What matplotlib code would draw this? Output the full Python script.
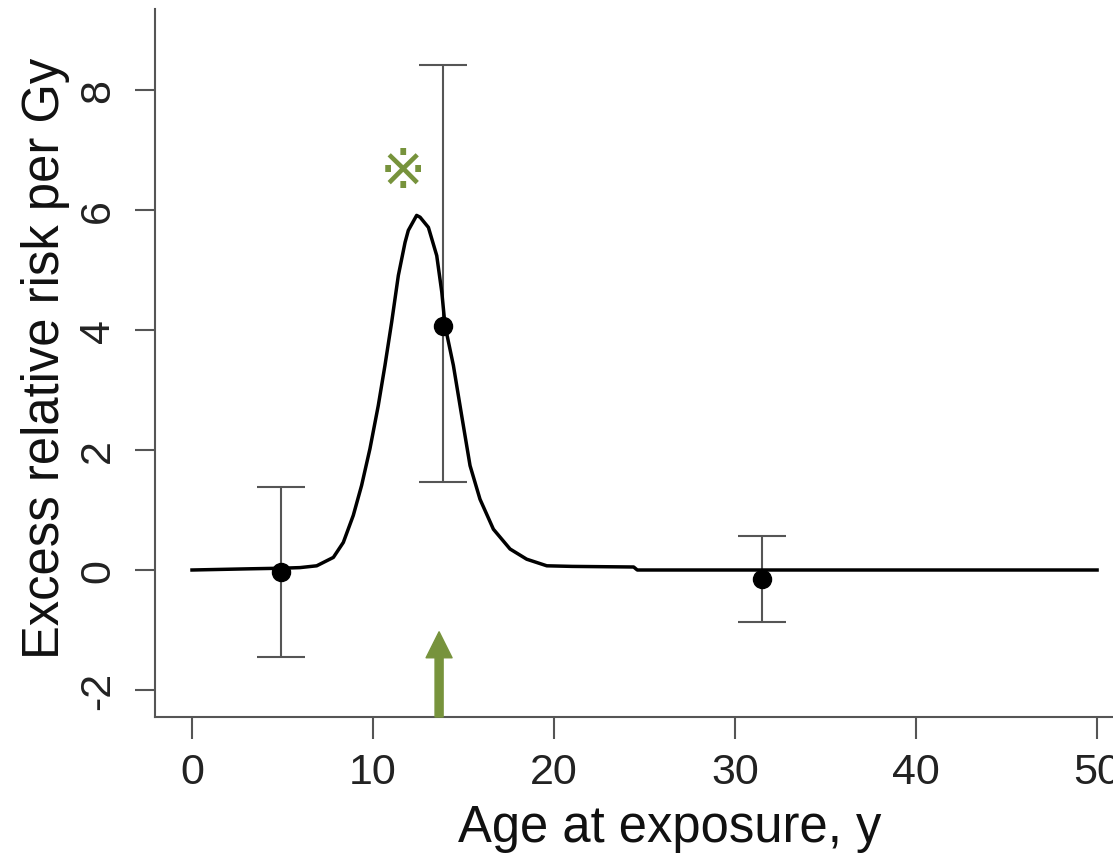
import numpy as np
import matplotlib.pyplot as plt

plt.rcParams['font.family'] = ['Liberation Sans', 'DejaVu Sans']

# fitted ERR curve
curve_x = [0, 3.2, 5.0, 5.97, 6.89, 7.81, 8.36, 8.91, 9.37, 9.83, 10.29, 10.66,
           11.03, 11.40, 11.77, 11.95, 12.41, 12.6, 13.06, 13.52, 13.80, 13.98,
           14.44, 14.90, 15.36, 15.91, 16.65, 17.57, 18.49, 19.6, 21.0, 24.4,
           24.6, 50]
curve_y = [0.0, 0.02, 0.03, 0.04, 0.07, 0.21, 0.46, 0.91, 1.41, 2.02, 2.74, 3.41,
           4.13, 4.91, 5.46, 5.66, 5.91, 5.88, 5.71, 5.24, 4.63, 4.07,
           3.41, 2.57, 1.74, 1.18, 0.68, 0.35, 0.18, 0.07, 0.06, 0.05,
           0.0, 0.0]

# grouped estimates with confidence intervals
pt_x = [4.9, 13.87, 31.5]
pt_y = [-0.03, 4.07, -0.15]
ci_low = [-1.45, 1.47, -0.87]
ci_high = [1.38, 8.42, 0.57]

xticks = [0, 10, 20, 30, 40, 50]
yticks = [-2, 0, 2, 4, 6, 8]

arrow_x = 13.65
green = '#77933C'
grey = '#555555'

fig = plt.figure(figsize=(11.13, 8.54), dpi=100)
ax = fig.add_axes([155/1113, 136/854, 958/1113, 708/854])

yerr = [np.array(pt_y) - np.array(ci_low), np.array(ci_high) - np.array(pt_y)]
ax.errorbar(pt_x, pt_y, yerr=yerr, fmt='none', ecolor=grey, elinewidth=1.5,
            capsize=17, capthick=1.5, zorder=2)
ax.plot(curve_x, curve_y, color='black', lw=2.5, zorder=3,
        solid_joinstyle='round')
ax.plot(pt_x, pt_y, 'o', color='black', ms=13, zorder=4)

# arrow at the bottom and the reference mark
ax.annotate('', xy=(arrow_x, -1.03), xytext=(arrow_x, -2.45),
            arrowprops=dict(arrowstyle='simple,head_width=18.7,head_length=18.7,tail_width=5.8',
                            mutation_scale=1, color=green, shrinkA=0, shrinkB=0),
            zorder=5)
ax.text(11.66, 6.64, '\u203b', color=green, fontsize=40, ha='center', va='center',
        family=['DejaVu Sans'])

ax.set_xlim(-2.044, 50.88)
ax.set_ylim(-2.45, 9.35)
ax.set_xticks(xticks)
ax.set_yticks(yticks)
ax.set_yticklabels([str(t) for t in yticks], rotation=90, va='center')

for s in ['top', 'right']:
    ax.spines[s].set_visible(False)
for s in ['left', 'bottom']:
    ax.spines[s].set_color(grey)
    ax.spines[s].set_linewidth(1.5)

ax.tick_params(axis='x', direction='out', length=15.5, width=1.5, color=grey,
               labelsize=31, pad=10, labelcolor='#222222')
ax.tick_params(axis='y', direction='out', length=14.5, width=1.5, color=grey,
               labelsize=31, pad=12, labelcolor='#222222')

ax.set_xlabel('Age at exposure, y', fontsize=36.5, color='#111111')
ax.set_ylabel('Excess relative risk per Gy', fontsize=36.5, color='#111111', labelpad=6)
ax.xaxis.set_label_coords(0.5376, -0.122)
ax.yaxis.label.set_position((0, 0.508))
ax.xaxis.label.set_va('top')

plt.savefig('out.png', dpi=100)
